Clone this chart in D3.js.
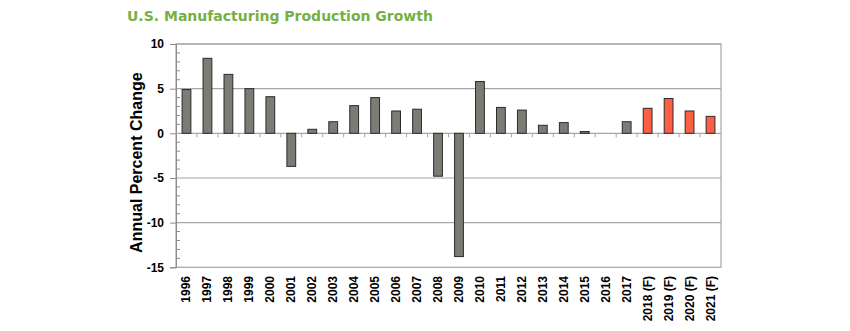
<!DOCTYPE html>
<html><head><meta charset="utf-8">
<script src="https://cdn.jsdelivr.net/npm/d3@7/dist/d3.min.js"></script>
<style>body{margin:0;background:#fff}svg{display:block}</style>
</head><body>
<script>
const years = ["1996","1997","1998","1999","2000","2001","2002","2003","2004","2005","2006","2007","2008","2009","2010","2011","2012","2013","2014","2015","2016","2017","2018 (F)","2019 (F)","2020 (F)","2021 (F)"];
const growth = [4.9,8.4,6.6,5.0,4.1,-3.7,0.45,1.3,3.1,4.0,2.5,2.7,-4.8,-13.8,5.8,2.9,2.6,0.9,1.2,0.2,0,1.3,2.8,3.9,2.5,1.9];
const forecast = [false,false,false,false,false,false,false,false,false,false,false,false,false,false,false,false,false,false,false,false,false,false,true,true,true,true];
const yTicks = [10,5,0,-5,-10,-15];
const titleText = "U.S. Manufacturing Production Growth";
const yTitle = "Annual Percent Change";

const W=850,H=331;
const m={left:176,right:721,top:44,bottom:267.3};
const svg=d3.select("body").append("svg").attr("width",W).attr("height",H);
const x=d3.scaleBand().domain(years).range([m.left,m.right]).paddingInner(0.58).paddingOuter(0.29);
const y=d3.scaleLinear().domain([-15,10]).range([m.bottom,m.top]);

svg.append("text").attr("x",127).attr("y",21).attr("fill","#76b043")
 .attr("font-family","Verdana, 'DejaVu Sans', sans-serif").attr("font-weight","bold").attr("font-size",14)
 .text(titleText);

// gridlines
svg.append("g").selectAll("line").data(yTicks.filter(d=>d!==0&&d!==-15)).join("line")
 .attr("x1",m.left).attr("x2",m.right).attr("y1",d=>y(d)).attr("y2",d=>y(d))
 .attr("stroke","#a6a6a6").attr("stroke-width",1.2);
// plot border
svg.append("rect").attr("x",m.left).attr("y",m.top).attr("width",m.right-m.left).attr("height",m.bottom-m.top)
 .attr("fill","none").attr("stroke","#a6a6a6").attr("stroke-width",1.2);

// y axis
const yAxis=svg.append("g").attr("transform",`translate(${m.left},0)`)
 .call(d3.axisLeft(y).tickValues(yTicks).tickSize(6).tickPadding(6).tickFormat(d=>String(d)));
yAxis.select(".domain").attr("stroke","#8c8c8c");
yAxis.selectAll(".tick line").attr("stroke","#8c8c8c");
yAxis.selectAll("text").attr("font-family","Arial, 'Liberation Sans', sans-serif").attr("font-weight","bold").attr("font-size",12).attr("fill","#000");
// minor ticks inside
const minor=d3.range(-15,10,1).filter(d=>d%5!==0);
svg.append("g").selectAll("line").data(minor).join("line")
 .attr("x1",m.left).attr("x2",m.left+4).attr("y1",d=>y(d)).attr("y2",d=>y(d)).attr("stroke","#8c8c8c");

// zero line & x ticks
svg.append("line").attr("x1",m.left).attr("x2",m.right).attr("y1",y(0)).attr("y2",y(0)).attr("stroke","#a6a6a6").attr("stroke-width",1.2);
const step=x.step();
svg.append("g").selectAll("line").data(years.slice(1)).join("line")
 .attr("x1",d=>x(d)-(step*x.paddingInner())/2).attr("x2",d=>x(d)-(step*x.paddingInner())/2)
 .attr("y1",y(0)).attr("y2",y(0)+4).attr("stroke","#a6a6a6");

// bars
svg.append("g").selectAll("rect").data(years).join("rect")
 .attr("x",d=>x(d)).attr("width",x.bandwidth())
 .attr("y",(d,i)=>y(Math.max(0,growth[i]))).attr("height",(d,i)=>Math.abs(y(growth[i])-y(0)))
 .attr("fill",(d,i)=>forecast[i]?"#fd5f45":"#7a7d74").attr("stroke","#2b2b2b").attr("stroke-width",1);

// x labels
svg.append("g").selectAll("text").data(years).join("text")
 .attr("transform",d=>`translate(${x(d)+x.bandwidth()/2+4},276) rotate(-90)`)
 .attr("text-anchor","end").attr("font-family","Arial, 'Liberation Sans', sans-serif")
 .attr("font-weight","bold").attr("font-size",12).text(d=>d);

// y title
svg.append("text").attr("transform",`translate(142,${(m.top+m.bottom)/2+7}) rotate(-90)`)
 .attr("text-anchor","middle").attr("font-family","Arial, 'Liberation Sans', sans-serif")
 .attr("font-weight","bold").attr("font-size",16).text(yTitle);
</script>
</body></html>
